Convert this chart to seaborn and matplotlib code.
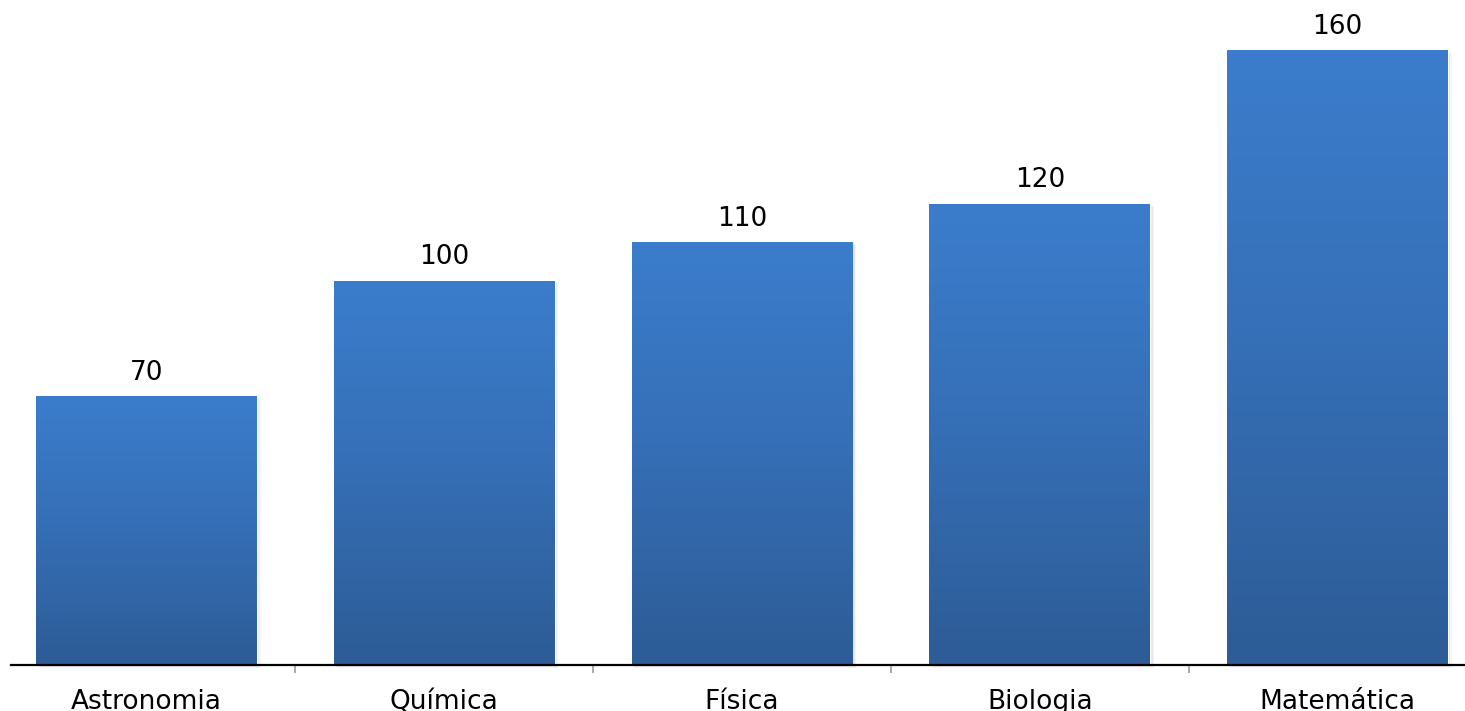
import numpy as np
import pandas as pd
import seaborn as sns
import matplotlib.pyplot as plt
from matplotlib.patches import Rectangle
from matplotlib.colors import LinearSegmentedColormap

materias = ['Astronomia', 'Química', 'Física', 'Biologia', 'Matemática']
valores = [70, 100, 110, 120, 160]

df = pd.DataFrame({'materia': materias, 'valor': valores})

sns.set_style('white')
plt.rcParams['font.family'] = ['DejaVu Sans']

fig = plt.figure(figsize=(14.65, 7.11), dpi=100)
ax = fig.add_axes([11 / 1465, 46 / 711, 1454 / 1465, 615 / 711])

sns.barplot(data=df, x='materia', y='valor', color='#3a7bcb', width=0.742,
            saturation=1, ax=ax, zorder=3)

# gradiente vertical em cada barra + sombra suave
grad = LinearSegmentedColormap.from_list('', [(0, '#2d5c96'), (0.55, '#3670b8'), (1, '#3b7dcc')])
g = np.linspace(0, 1, 256).reshape(-1, 1)
for p in ax.patches:
    x0, w, h = p.get_x(), p.get_width(), p.get_height()
    for k, a in [(0.004, 0.06), (0.008, 0.05), (0.012, 0.04)]:
        ax.add_patch(Rectangle((x0 + k, -k * 60), w, h, color='#000000', alpha=a,
                               lw=0, zorder=2, clip_on=False))
    im = ax.imshow(g, extent=[x0, x0 + w, 0, h], origin='lower', cmap=grad,
                   aspect='auto', zorder=4)
    im.set_clip_path(p)
    ax.annotate(f'{int(h)}', xy=(x0 + w / 2, h), xytext=(0, 7.5), textcoords='offset points',
                ha='center', va='bottom', fontsize=19, color='#000000')

ax.set_xlim(-0.455, 4.428)
ax.set_ylim(0, 160)

for s in ['top', 'right', 'left']:
    ax.spines[s].set_visible(False)
ax.spines['bottom'].set_color('#000000')
ax.spines['bottom'].set_linewidth(1.6)
ax.spines['bottom'].set_zorder(5)
ax.set_yticks([])
ax.set_xlabel('')
ax.set_ylabel('')

ax.set_xticks([0, 1, 2, 3, 4])
ax.set_xticklabels(materias, fontsize=19, color='#000000')
ax.tick_params(axis='x', which='major', bottom=True, length=0, pad=17.5)
ax.set_xticks([0.5, 1.5, 2.5, 3.5], minor=True)
ax.tick_params(axis='x', which='minor', bottom=True, length=6, width=1.2,
               color='#999999', direction='out')

fig.savefig('out.png', dpi=100)
